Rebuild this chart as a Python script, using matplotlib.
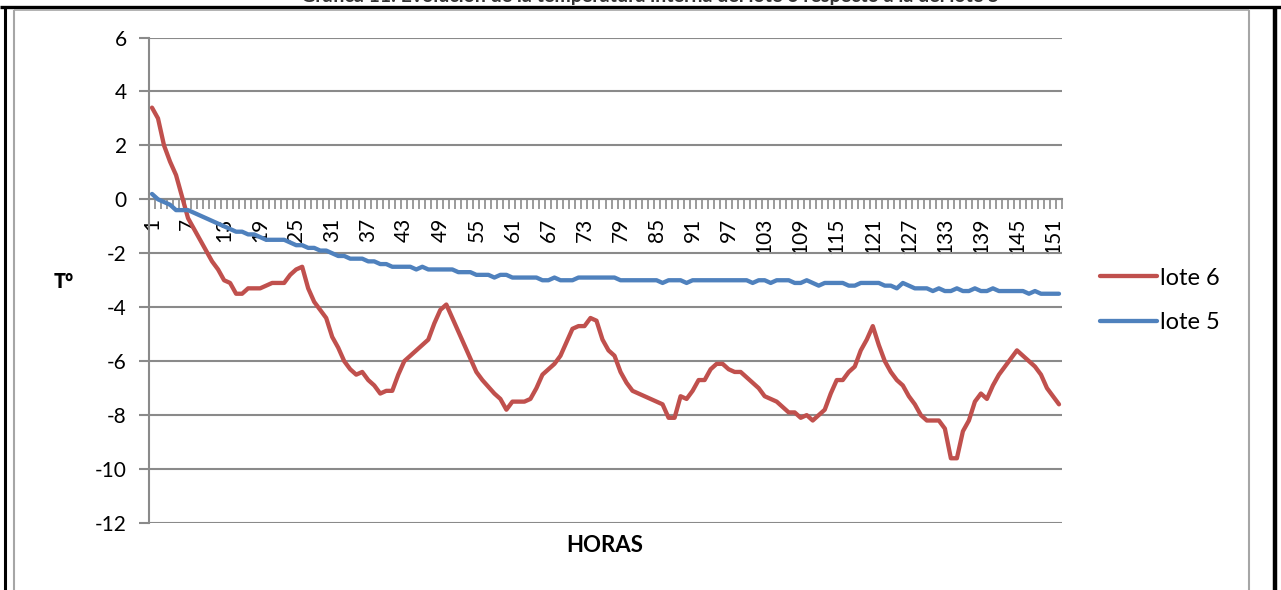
import matplotlib
matplotlib.use("Agg")
import matplotlib.pyplot as plt
from matplotlib.lines import Line2D
import numpy as np

plt.rcParams['font.family'] = ['Lato', 'DejaVu Sans']

# Hourly temperature of each batch (ºC)
horas = list(range(1, 153))

lote6 = [
    3.4, 3.0, 2.0, 1.4, 0.9, 0.1, -0.7, -1.1, -1.5, -1.9,
    -2.3, -2.6, -3.0, -3.1, -3.5, -3.5, -3.3, -3.3, -3.3, -3.2,
    -3.1, -3.1, -3.1, -2.8, -2.6, -2.5, -3.3, -3.8, -4.1, -4.4,
    -5.1, -5.5, -6.0, -6.3, -6.5, -6.4, -6.7, -6.9, -7.2, -7.1,
    -7.1, -6.5, -6.0, -5.8, -5.6, -5.4, -5.2, -4.6, -4.1, -3.9,
    -4.4, -4.9, -5.4, -5.9, -6.4, -6.7, -6.95, -7.2, -7.4, -7.8,
    -7.5, -7.5, -7.5, -7.4, -7.0, -6.5, -6.3, -6.1, -5.8, -5.3,
    -4.8, -4.7, -4.7, -4.4, -4.5, -5.2, -5.6, -5.8, -6.4, -6.8,
    -7.1, -7.2, -7.3, -7.4, -7.5, -7.6, -8.1, -8.1, -7.3, -7.4,
    -7.1, -6.7, -6.7, -6.3, -6.1, -6.1, -6.3, -6.4, -6.4, -6.6,
    -6.8, -7.0, -7.3, -7.4, -7.5, -7.7, -7.9, -7.9, -8.1, -8.0,
    -8.2, -8.0, -7.8, -7.2, -6.7, -6.7, -6.4, -6.2, -5.6, -5.2,
    -4.7, -5.4, -6.0, -6.4, -6.7, -6.9, -7.3, -7.6, -8.0, -8.2,
    -8.2, -8.2, -8.5, -9.6, -9.6, -8.6, -8.2, -7.5, -7.2, -7.4,
    -6.9, -6.5, -6.2, -5.9, -5.6, -5.8, -6.0, -6.2, -6.5, -7.0,
    -7.3, -7.6,
]

lote5 = [
    0.2, 0.0, -0.1, -0.2, -0.4, -0.4, -0.4, -0.5, -0.6, -0.7,
    -0.8, -0.9, -1.0, -1.1, -1.2, -1.2, -1.3, -1.3, -1.4, -1.5,
    -1.5, -1.5, -1.5, -1.6, -1.7, -1.7, -1.8, -1.8, -1.9, -1.9,
    -2.0, -2.1, -2.1, -2.2, -2.2, -2.2, -2.3, -2.3, -2.4, -2.4,
    -2.5, -2.5, -2.5, -2.5, -2.6, -2.5, -2.6, -2.6, -2.6, -2.6,
    -2.6, -2.7, -2.7, -2.7, -2.8, -2.8, -2.8, -2.9, -2.8, -2.8,
    -2.9, -2.9, -2.9, -2.9, -2.9, -3.0, -3.0, -2.9, -3.0, -3.0,
    -3.0, -2.9, -2.9, -2.9, -2.9, -2.9, -2.9, -2.9, -3.0, -3.0,
    -3.0, -3.0, -3.0, -3.0, -3.0, -3.1, -3.0, -3.0, -3.0, -3.1,
    -3.0, -3.0, -3.0, -3.0, -3.0, -3.0, -3.0, -3.0, -3.0, -3.0,
    -3.1, -3.0, -3.0, -3.1, -3.0, -3.0, -3.0, -3.1, -3.1, -3.0,
    -3.1, -3.2, -3.1, -3.1, -3.1, -3.1, -3.2, -3.2, -3.1, -3.1,
    -3.1, -3.1, -3.2, -3.2, -3.3, -3.1, -3.2, -3.3, -3.3, -3.3,
    -3.4, -3.3, -3.4, -3.4, -3.3, -3.4, -3.4, -3.3, -3.4, -3.4,
    -3.3, -3.4, -3.4, -3.4, -3.4, -3.4, -3.5, -3.4, -3.5, -3.5,
    -3.5, -3.5,
]

y_ticks = list(range(-12, 7, 2))
x_labels = list(range(1, 152, 6))

W, H = 1281, 590
fig = plt.figure(figsize=(W / 100, H / 100), dpi=100)

# plot area in pixels
left, right, top, bottom = 149, 1062, 37.5, 523
ax = fig.add_axes([left / W, (H - bottom) / H, (right - left) / W, (bottom - top) / H])

red = '#C0504D'
blue = '#4F81BD'
grid = '#8A8A8A'

ax.plot(horas, lote6, color=red, lw=3.1, solid_capstyle='round', solid_joinstyle='round', label='lote 6', zorder=3)
ax.plot(horas, lote5, color=blue, lw=3.1, solid_capstyle='round', solid_joinstyle='round', label='lote 5', zorder=3)

ax.set_xlim(0.5, len(horas) + 0.5)
ax.set_ylim(-12, 6)

ax.set_yticks(y_ticks)
ax.set_yticklabels([str(v) for v in y_ticks])
ax.yaxis.grid(True, color=grid, lw=1.5)
ax.set_axisbelow(True)

for s in ('top', 'right'):
    ax.spines[s].set_visible(False)
ax.spines['left'].set_color(grid)
ax.spines['left'].set_linewidth(1.5)
ax.spines['bottom'].set_position(('data', 0))
ax.spines['bottom'].set_color(grid)
ax.spines['bottom'].set_linewidth(1.5)

ax.tick_params(axis='y', length=7, width=1.5, color=grid, direction='out', pad=9,
               labelsize=15, labelcolor='black')

ax.set_xticks(x_labels)
ax.set_xticklabels([str(v) for v in x_labels], rotation=90, va='top', ha='center')
ax.set_xticks(np.arange(0.5, len(horas) + 1, 1), minor=True)
ax.tick_params(axis='x', which='major', length=0, pad=13, labelsize=15, labelcolor='black')
ax.tick_params(axis='x', which='minor', length=7, width=1.2, color=grid, direction='out')

fig.text(64 / W, 1 - 282 / H, 'Tº', fontsize=15, fontweight='bold', ha='center', va='center',
         family=['Open Sans', 'DejaVu Sans'])
fig.text(605 / W, 1 - 546 / H, 'HORAS', fontsize=16, fontweight='bold', ha='center', va='center')

ax.legend(loc='center left', bbox_to_anchor=(1100 / W, 1 - 300.5 / H), bbox_transform=fig.transFigure,
          frameon=False, fontsize=17, handlelength=2.4, handletextpad=0.12, labelspacing=1.0,
          borderpad=0, borderaxespad=0)

# title, partly hidden above the top border
fig.text(650 / W, 1 - 2 / H,
         'Gráfica 11. Evolución de la temperatura interna del lote 6 respecto a la del lote 5',
         fontsize=14, fontweight='bold', ha='center', va='baseline', color='#333333')

# surrounding frames
def fline(x0, y0, x1, y1, color, lw):
    fig.add_artist(Line2D([x0 / W, x1 / W], [1 - y0 / H, 1 - y1 / H], transform=fig.transFigure,
                          color=color, lw=lw, solid_capstyle='butt'))

fline(0, 6.5, W, 6.5, 'black', 2.4)
fline(4.5, 6, 4.5, H, 'black', 2.2)
fline(1274.5, 6, 1274.5, H, 'black', 3.2)
fline(14, 9.5, 1248.5, 9.5, '#A6A6A6', 1.2)
fline(14, 9.5, 14, H, '#A6A6A6', 1.5)
fline(1248.5, 9.5, 1248.5, H, '#A6A6A6', 1.5)

fig.savefig('out.png', dpi=100, facecolor='white')
